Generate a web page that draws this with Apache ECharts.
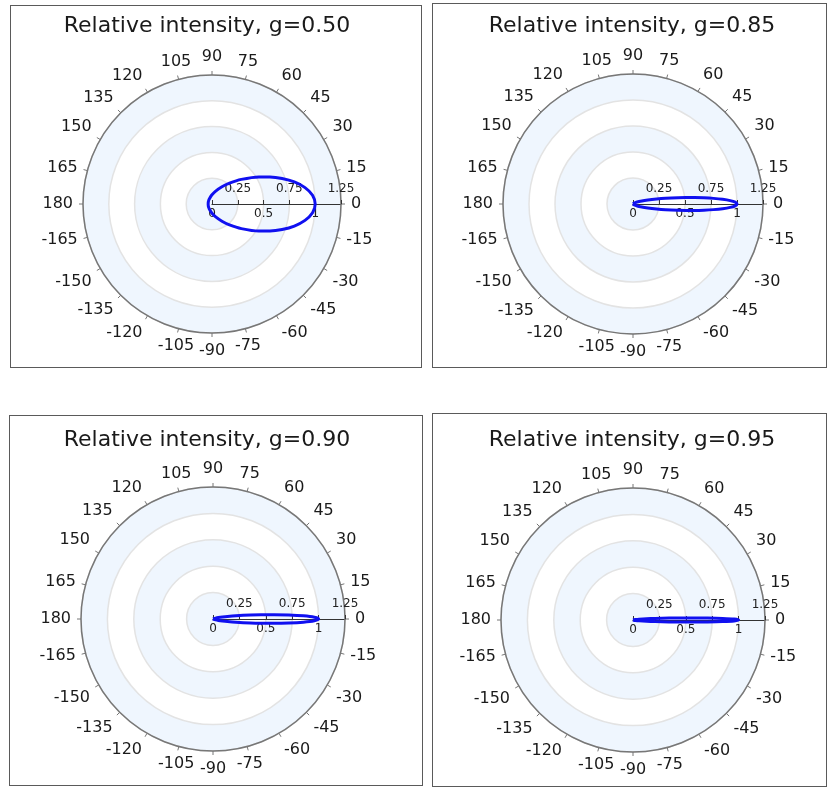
<!DOCTYPE html>
<html>
<head>
<meta charset="utf-8">
<script src="https://cdn.jsdelivr.net/npm/echarts@6/dist/echarts.min.js"></script>
<style>
  body { margin: 0; background: #fff; }
  .panel { position: absolute; border: 1px solid #5a5a5a; box-sizing: border-box; }
</style>
</head>
<body>
<div class="panel" id="p1" style="left:10px;top:5px;width:412px;height:363px;"></div>
<div class="panel" id="p2" style="left:432px;top:3px;width:395px;height:365px;"></div>
<div class="panel" id="p3" style="left:9px;top:415px;width:414px;height:371px;"></div>
<div class="panel" id="p4" style="left:432px;top:413px;width:395px;height:374px;"></div>
<script>
// angles (deg) and relative intensity, one half of the lobe (the other half is its mirror)
var g50Angles = [0, 5, 10, 15, 20, 25, 30, 40, 50, 60, 75, 90, 105, 120, 135, 150, 165, 180];
var g50Radius = [1, 0.978, 0.915, 0.826, 0.723, 0.620, 0.525, 0.371, 0.264, 0.193, 0.127, 0.089, 0.067, 0.054, 0.046, 0.041, 0.038, 0.037];

var g85Angles = [0, 1, 2, 3, 4, 5, 6, 7, 8, 10, 12, 15, 20, 25, 30, 45, 60, 90, 120, 150, 180];
var g85Radius = [1, 0.983, 0.935, 0.863, 0.776, 0.684, 0.595, 0.512, 0.438, 0.318, 0.232, 0.148, 0.076, 0.044, 0.027, 0.009, 0.004, 0.0015, 0.0008, 0.0006, 0.0005];

var g90Angles = [0, 1, 2, 3, 4, 5, 6, 8, 10, 12, 15, 20, 30, 45, 60, 90, 135, 180];
var g90Radius = [1, 0.960, 0.856, 0.719, 0.580, 0.457, 0.357, 0.219, 0.139, 0.091, 0.053, 0.025, 0.008, 0.0025, 0.0012, 0.0004, 0.0002, 0.00015];

var g95Angles = [0, 0.5, 1, 1.5, 2, 2.5, 3, 4, 5, 7, 10, 15, 30, 60, 90, 180];
var g95Radius = [1, 0.958, 0.849, 0.706, 0.565, 0.442, 0.343, 0.208, 0.130, 0.058, 0.023, 0.007, 0.001, 0.0001, 0.00005, 0.00002];

var titles = ['Relative intensity, g=0.50', 'Relative intensity, g=0.85',
              'Relative intensity, g=0.90', 'Relative intensity, g=0.95'];
var radiusTicks = [0, 0.25, 0.5, 0.75, 1, 1.25];

var FONT = '"DejaVu Sans", Verdana, sans-serif';

// closed loop: -180 .. 0 .. 180
function loop(angles, radius) {
    var pts = [];
    for (var i = angles.length - 1; i >= 0; i--) pts.push([radius[i], -angles[i]]);
    for (var j = 1; j < angles.length; j++) pts.push([radius[j], angles[j]]);
    return pts;
}

function drawPanel(id, title, angles, radius, cx, cy, r, tx, ty) {
    var chart = echarts.init(document.getElementById(id), null, {renderer: 'canvas'});
    var radMax = radiusTicks[radiusTicks.length - 1];
    chart.setOption({
        animation: false,
        title: {
            text: title,
            left: tx, top: ty, textAlign: 'center',
            textStyle: {fontFamily: FONT, fontSize: 22, fontWeight: 'normal', color: '#1a1a1a'}
        },
        polar: [
            {center: [cx, cy], radius: r},
            {center: [cx, cy], radius: r}
        ],
        angleAxis: [{
            polarIndex: 0,
            type: 'value', min: 0, max: 360, interval: 15,
            startAngle: 0, clockwise: false,
            axisLine: {lineStyle: {color: '#777', width: 1.5}},
            axisTick: {show: true, length: 4, lineStyle: {color: '#777'}},
            axisLabel: {
                margin: 10,
                fontFamily: FONT, fontSize: 16, color: '#1a1a1a',
                formatter: function (v) { return v === 360 ? '' : (v > 180 ? v - 360 : v); }
            },
            splitLine: {show: false}
        }, {
            polarIndex: 1,
            type: 'value', min: 0, max: 360, startAngle: 0, clockwise: false, show: false
        }],
        radiusAxis: [{
            polarIndex: 0,
            min: 0, max: radMax, interval: 0.25,
            axisLine: {lineStyle: {color: '#333', width: 1.2}},
            axisTick: {length: 4, lineStyle: {color: '#333'}},
            // 0, 0.5, 1 sit below the axis line
            axisLabel: {
                margin: -4, verticalAlign: 'top', fontFamily: FONT, fontSize: 12, color: '#222',
                formatter: function (v) { return radiusTicks.indexOf(v) % 2 === 0 ? String(v) : ''; }
            },
            splitLine: {show: false},
            splitArea: {show: true, areaStyle: {color: ['#eff6fe', '#ffffff']}}
        }, {
            polarIndex: 1,
            min: 0, max: radMax, interval: 0.25,
            axisLine: {show: false}, axisTick: {show: false},
            // 0.25, 0.75, 1.25 sit above it
            axisLabel: {
                margin: 9, verticalAlign: 'bottom', fontFamily: FONT, fontSize: 12, color: '#222',
                formatter: function (v) { return radiusTicks.indexOf(v) % 2 === 1 ? String(v) : ''; }
            },
            splitLine: {show: true, lineStyle: {color: '#e3e3e3', width: 1.5}},
            splitArea: {show: false}
        }],
        series: [{
            type: 'line',
            coordinateSystem: 'polar',
            polarIndex: 0,
            data: loop(angles, radius),
            showSymbol: false,
            smooth: 0.3,
            lineStyle: {color: '#1010f0', width: 3}
        }]
    });
}

drawPanel('p1', titles[0], g50Angles, g50Radius, 201, 198, 129, 191, 4);
drawPanel('p2', titles[1], g85Angles, g85Radius, 200, 200, 130, 194, 6);
drawPanel('p3', titles[2], g90Angles, g90Radius, 203, 203, 132, 192, 8);
drawPanel('p4', titles[3], g95Angles, g95Radius, 200, 206, 132, 194, 10);
</script>
</body>
</html>
